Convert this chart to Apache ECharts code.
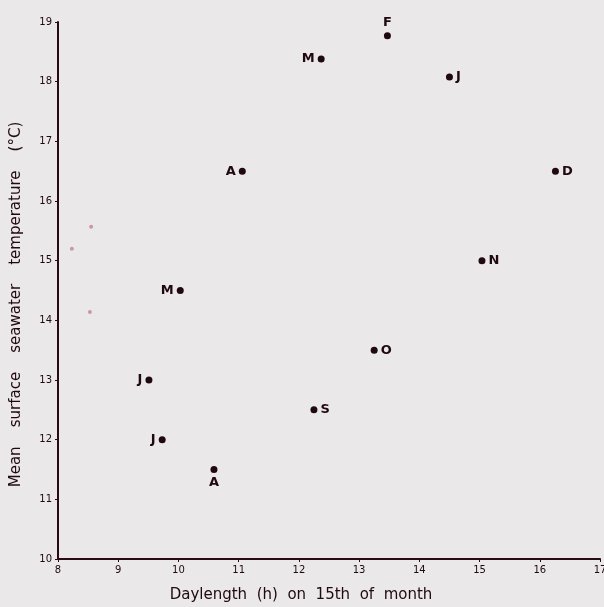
<!DOCTYPE html>
<html>
<head>
<meta charset="utf-8">
<script src="https://cdn.jsdelivr.net/npm/echarts@6/dist/echarts.min.js"></script>
<style>
  html, body { margin: 0; padding: 0; background: #ebe8ea; }
  #chart { width: 604px; height: 607px; }
</style>
</head>
<body>
<div id="chart"></div>
<script>
// monthly points, Jan..Dec
const months = ['J', 'F', 'M', 'A', 'M', 'J', 'J', 'A', 'S', 'O', 'N', 'D']
const daylength = [14.5, 13.47, 12.37, 11.06, 10.03, 9.51, 9.73, 10.59, 12.25, 13.25, 15.04, 16.26]
const temperature = [18.08, 18.77, 18.38, 16.5, 14.5, 13.0, 12.0, 11.5, 12.5, 13.5, 15.0, 16.5]
// faint specks on the scan
const speckX = [8.23, 8.55, 8.53]
const speckY = [15.2, 15.57, 14.14]

const labelSide = ['right', 'top', 'left', 'left', 'left', 'left', 'left', 'bottom', 'right', 'right', 'right', 'right']

const ink = '#1f0812'
const axisInk = '#2b0a18'
const font = 'DejaVu Sans'

const chart = echarts.init(document.getElementById('chart'), null, { renderer: 'canvas' })

const option = {
  backgroundColor: '#ebe8ea',
  animation: false,
  grid: { left: 58, right: 4, top: 22, bottom: 48, outerBoundsMode: 'none' },
  xAxis: {
    type: 'value',
    min: 8,
    max: 17,
    interval: 1,
    name: 'Daylength  (h)  on  15th  of  month',
    nameLocation: 'middle',
    nameGap: 29,
    nameTextStyle: { color: ink, fontSize: 15, fontFamily: font, padding: [0, 56, 0, 0] },
    axisLine: { lineStyle: { color: axisInk, width: 2 } },
    axisTick: { show: true, length: 3, lineStyle: { color: axisInk } },
    axisLabel: { color: ink, fontSize: 10, fontFamily: font, margin: 6 },
    splitLine: { show: false }
  },
  yAxis: {
    type: 'value',
    min: 10,
    max: 19,
    interval: 1,
    name: 'Mean    surface    seawater    temperature    (°C)',
    nameLocation: 'middle',
    nameGap: 34,
    nameTextStyle: { color: ink, fontSize: 15, fontFamily: font, padding: [0, 28, 0, 0] },
    axisLine: { lineStyle: { color: axisInk, width: 2 } },
    axisTick: { show: true, length: 3, lineStyle: { color: axisInk } },
    axisLabel: { color: ink, fontSize: 10, fontFamily: font, margin: 6 },
    splitLine: { show: false }
  },
  series: [
    {
      type: 'scatter',
      symbolSize: 7,
      itemStyle: { color: ink, opacity: 1 },
      label: {
        show: true,
        color: ink,
        fontSize: 13,
        fontWeight: 'bold',
        fontFamily: font,
        distance: 3,
        formatter: p => months[p.dataIndex]
      },
      data: daylength.map((x, i) => ({
        value: [x, temperature[i]],
        label: { position: labelSide[i] }
      }))
    },
    {
      type: 'scatter',
      symbolSize: 4,
      itemStyle: { color: '#c996ad', opacity: 1 },
      data: speckX.map((x, i) => [x, speckY[i]])
    }
  ]
}

chart.setOption(option)
</script>
</body>
</html>
